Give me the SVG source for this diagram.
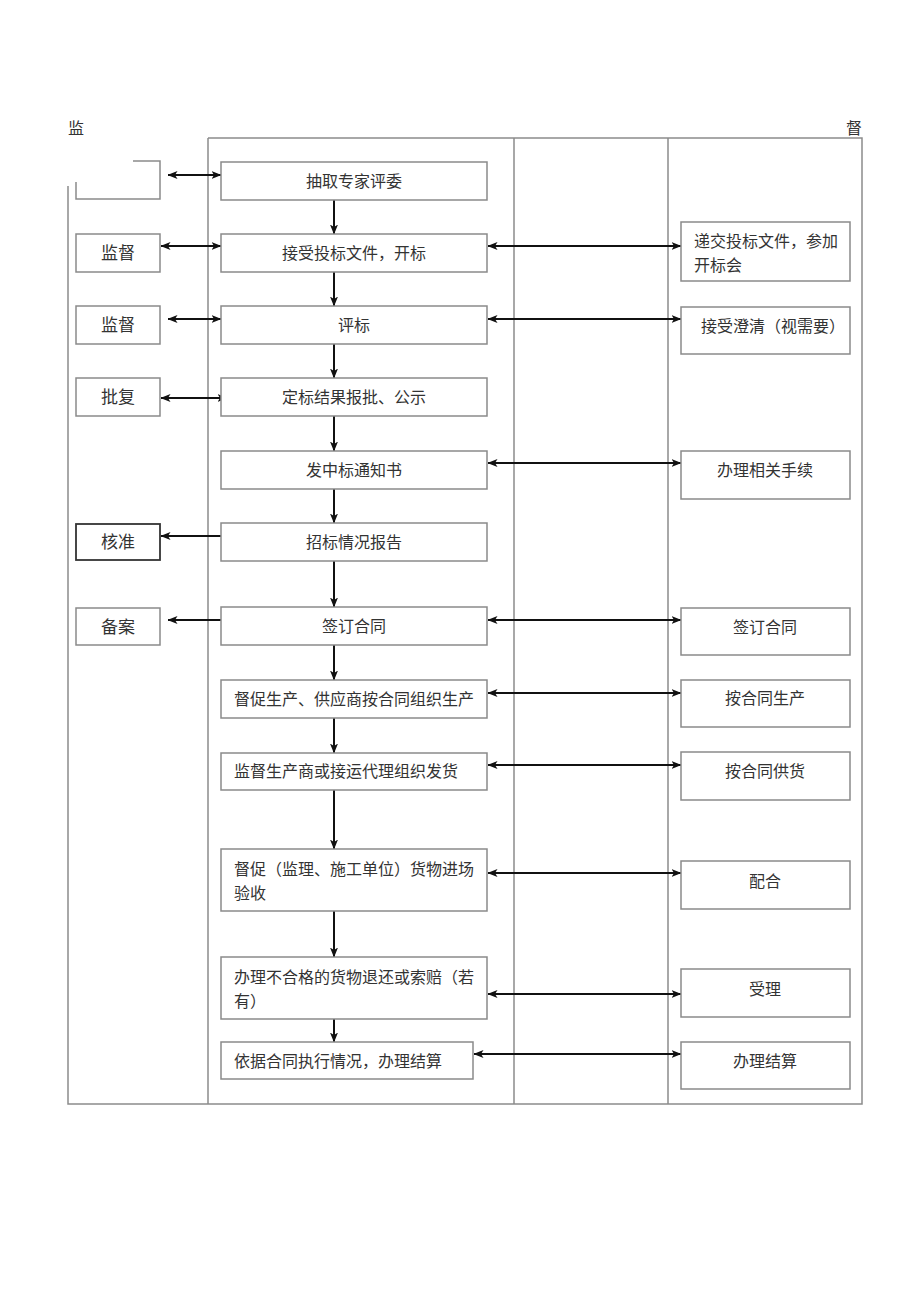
<svg xmlns="http://www.w3.org/2000/svg" width="920" height="1301" viewBox="0 0 920 1301">
<defs>
<style>
.lane{stroke:#8c8c8c;stroke-width:1.5;fill:none}
.box{fill:#fff;stroke:#8a8a8a;stroke-width:1.5}
.dark{fill:#fff;stroke:#333;stroke-width:1.8}
.t{font-family:"Liberation Serif","Noto Sans CJK SC",serif;font-size:16px;fill:#333}
.c{text-anchor:middle}
.lt{font-size:17px}
.ar{stroke:#111;stroke-width:2;fill:none}
</style>
<marker id="ah" viewBox="0 0 10 8" refX="9.5" refY="4" markerWidth="5" markerHeight="4" orient="auto-start-reverse" markerUnits="strokeWidth">
<path d="M0,0 L10,4 L0,8 L2.5,4 Z" fill="#111"/>
</marker>
</defs>
<rect width="920" height="1301" fill="#fff"/>
<g id="lanes">
<path class="lane" d="M208,138 H862 V1104 H68 V186 M208,138 V1104 M514,138 V1104 M668,138 V1104"/>
<text class="t" x="68" y="134">监</text>
<text class="t" x="846" y="134">督</text>
</g>
<g id="connectors">
<path class="ar" marker-start="url(#ah)" marker-end="url(#ah)" d="M168,175 H221"/>
<path class="ar" marker-start="url(#ah)" marker-end="url(#ah)" d="M161,246 H221"/>
<path class="ar" marker-start="url(#ah)" marker-end="url(#ah)" d="M168,319 H221"/>
<path class="ar" marker-start="url(#ah)" marker-end="url(#ah)" d="M161,398 H227"/>
<path class="ar" marker-end="url(#ah)" d="M221,536 H161"/>
<path class="ar" marker-end="url(#ah)" d="M221,620 H168"/>
<path class="ar" marker-end="url(#ah)" d="M334,200 V234"/>
<path class="ar" marker-end="url(#ah)" d="M334,272 V306"/>
<path class="ar" marker-end="url(#ah)" d="M334,344 V378"/>
<path class="ar" marker-end="url(#ah)" d="M334,416 V451"/>
<path class="ar" marker-end="url(#ah)" d="M334,489 V523"/>
<path class="ar" marker-end="url(#ah)" d="M334,561 V607"/>
<path class="ar" marker-end="url(#ah)" d="M334,645 V680"/>
<path class="ar" marker-end="url(#ah)" d="M334,718 V753"/>
<path class="ar" marker-end="url(#ah)" d="M334,790 V849"/>
<path class="ar" marker-end="url(#ah)" d="M334,911 V957"/>
<path class="ar" marker-end="url(#ah)" d="M334,1019 V1042"/>
<path class="ar" marker-start="url(#ah)" marker-end="url(#ah)" d="M488,246 H681"/>
<path class="ar" marker-start="url(#ah)" marker-end="url(#ah)" d="M488,319 H681"/>
<path class="ar" marker-start="url(#ah)" marker-end="url(#ah)" d="M488,463 H681"/>
<path class="ar" marker-start="url(#ah)" marker-end="url(#ah)" d="M488,620 H681"/>
<path class="ar" marker-start="url(#ah)" marker-end="url(#ah)" d="M488,693 H681"/>
<path class="ar" marker-start="url(#ah)" marker-end="url(#ah)" d="M488,765 H681"/>
<path class="ar" marker-start="url(#ah)" marker-end="url(#ah)" d="M488,873 H681"/>
<path class="ar" marker-start="url(#ah)" marker-end="url(#ah)" d="M488,994 H681"/>
<path class="ar" marker-start="url(#ah)" marker-end="url(#ah)" d="M474,1054 H681"/>
</g>
<g id="L1"><path class="box" style="fill:none" d="M133,161 H160 V199 H76 V182"/></g>
<g id="L2"><rect class="box" x="76" y="234" width="84" height="38"/><text class="t c lt" x="118" y="259">监督</text></g>
<g id="L3"><rect class="box" x="76" y="306" width="84" height="38"/><text class="t c lt" x="118" y="331">监督</text></g>
<g id="L4"><rect class="box" x="76" y="378" width="84" height="38"/><text class="t c lt" x="118" y="403">批复</text></g>
<g id="L5"><rect class="dark" x="76" y="524" width="84" height="36"/><text class="t c lt" x="118" y="548">核准</text></g>
<g id="L6"><rect class="box" x="76" y="608" width="84" height="37"/><text class="t c lt" x="118" y="633">备案</text></g>
<g id="M1"><rect class="box" x="221" y="162" width="266" height="38"/><text class="t c" x="354" y="187">抽取专家评委</text></g>
<g id="M2"><rect class="box" x="221" y="234" width="266" height="38"/><text class="t c" x="354" y="259">接受投标文件，开标</text></g>
<g id="M3"><rect class="box" x="221" y="306" width="266" height="38"/><text class="t c" x="354" y="331">评标</text></g>
<g id="M4"><rect class="box" x="221" y="378" width="266" height="38"/><text class="t c" x="354" y="403">定标结果报批、公示</text></g>
<g id="M5"><rect class="box" x="221" y="451" width="266" height="38"/><text class="t c" x="354" y="476">发中标通知书</text></g>
<g id="M6"><rect class="box" x="221" y="523" width="266" height="38"/><text class="t c" x="354" y="548">招标情况报告</text></g>
<g id="M7"><rect class="box" x="221" y="607" width="266" height="38"/><text class="t c" x="354" y="632">签订合同</text></g>
<g id="M8"><rect class="box" x="221" y="680" width="266" height="38"/><text class="t" x="234" y="705">督促生产、供应商按合同组织生产</text></g>
<g id="M9"><rect class="box" x="221" y="753" width="266" height="37"/><text class="t" x="234" y="777">监督生产商或接运代理组织发货</text></g>
<g id="M10"><rect class="box" x="221" y="849" width="266" height="62"/><text class="t" x="234" y="875">督促（监理、施工单位）货物进场</text><text class="t" x="234" y="899">验收</text></g>
<g id="M11"><rect class="box" x="221" y="957" width="266" height="62"/><text class="t" x="234" y="983">办理不合格的货物退还或索赔（若</text><text class="t" x="234" y="1007">有）</text></g>
<g id="M12"><rect class="box" x="221" y="1042" width="252" height="37"/><text class="t" x="234" y="1067">依据合同执行情况，办理结算</text></g>
<g id="R1"><rect class="box" x="681" y="222" width="169" height="59"/><text class="t" x="694" y="247">递交投标文件，参加</text><text class="t" x="694" y="271">开标会</text></g>
<g id="R2"><rect class="box" x="681" y="307" width="169" height="47"/><text class="t" x="701" y="332">接受澄清（视需要）</text></g>
<g id="R3"><rect class="box" x="681" y="451" width="169" height="48"/><text class="t c" x="765" y="476">办理相关手续</text></g>
<g id="R4"><rect class="box" x="681" y="608" width="169" height="47"/><text class="t c" x="765" y="633">签订合同</text></g>
<g id="R5"><rect class="box" x="681" y="680" width="169" height="47"/><text class="t c" x="765" y="704">按合同生产</text></g>
<g id="R6"><rect class="box" x="681" y="752" width="169" height="48"/><text class="t c" x="765" y="777">按合同供货</text></g>
<g id="R7"><rect class="box" x="681" y="861" width="169" height="48"/><text class="t c" x="765" y="887">配合</text></g>
<g id="R8"><rect class="box" x="681" y="969" width="169" height="48"/><text class="t c" x="765" y="995">受理</text></g>
<g id="R9"><rect class="box" x="681" y="1042" width="169" height="47"/><text class="t c" x="765" y="1067">办理结算</text></g>
</svg>
